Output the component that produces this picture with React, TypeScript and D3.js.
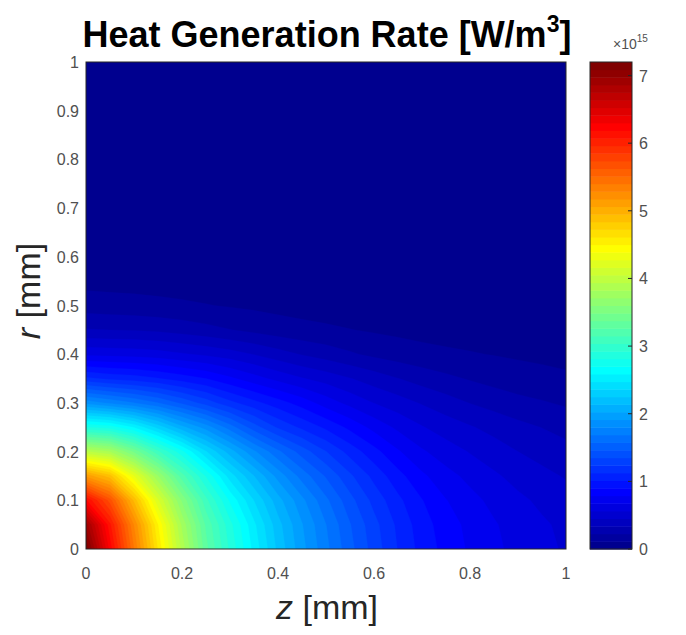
import React from 'react';
import * as d3 from 'd3';

// Grid coordinates (mm)
const zGrid = [0, 0.05, 0.1, 0.15, 0.2, 0.25, 0.3, 0.35, 0.4, 0.45, 0.5, 0.55, 0.6, 0.65, 0.7, 0.75, 0.8, 0.85, 0.9, 0.95, 1];
const rGrid = [0, 0.05, 0.1, 0.15, 0.2, 0.25, 0.3, 0.35, 0.4, 0.45, 0.5, 0.55, 0.6, 0.65, 0.7, 0.75, 0.8, 0.85, 0.9, 0.95, 1];

// Heat generation rate [x1e15 W/m^3], one row per r value, columns follow zGrid
const q_r000 = [7.2, 6.25, 5.4, 4.6, 3.9, 3.3, 2.9, 2.55, 2.22, 1.95, 1.72, 1.5, 1.3, 1.12, 0.97, 0.86, 0.77, 0.7, 0.64, 0.59, 0.55];
const q_r005 = [6.93, 6.1, 5.28, 4.5, 3.8, 3.24, 2.85, 2.5, 2.18, 1.92, 1.69, 1.47, 1.276, 1.1, 0.95, 0.842, 0.755, 0.686, 0.626, 0.578, 0.538];
const q_r010 = [6.2, 5.68, 4.92, 4.18, 3.58, 3.07, 2.68, 2.36, 2.07, 1.83, 1.6, 1.39, 1.2, 1.04, 0.905, 0.792, 0.711, 0.644, 0.586, 0.54, 0.5];
const q_r015 = [5.14, 4.88, 4.28, 3.72, 3.2, 2.8, 2.42, 2.14, 1.87, 1.64, 1.45, 1.26, 1.09, 0.94, 0.81, 0.714, 0.644, 0.58, 0.525, 0.48, 0.44];
const q_r020 = [3.95, 3.82, 3.46, 3.06, 2.73, 2.37, 2.08, 1.82, 1.6, 1.41, 1.24, 1.08, 0.94, 0.8, 0.69, 0.615, 0.555, 0.5, 0.45, 0.41, 0.375];
const q_r025 = [2.82, 2.76, 2.58, 2.32, 2.06, 1.86, 1.63, 1.4, 1.22, 1.1, 0.99, 0.87, 0.75, 0.65, 0.57, 0.51, 0.46, 0.415, 0.37, 0.335, 0.3];
const q_r030 = [1.87, 1.78, 1.69, 1.58, 1.44, 1.3, 1.16, 1.05, 0.95, 0.85, 0.735, 0.64, 0.56, 0.5, 0.44, 0.385, 0.335, 0.295, 0.26, 0.235, 0.21];
const q_r035 = [1.15, 1.1, 1.07, 1.02, 0.96, 0.9, 0.81, 0.72, 0.64, 0.57, 0.515, 0.455, 0.395, 0.34, 0.29, 0.25, 0.215, 0.185, 0.16, 0.145, 0.13];
const q_r040 = [0.65, 0.64, 0.63, 0.61, 0.575, 0.54, 0.5, 0.445, 0.385, 0.33, 0.285, 0.24, 0.2, 0.17, 0.148, 0.132, 0.12, 0.108, 0.098, 0.089, 0.08];
const q_r045 = [0.345, 0.336, 0.33, 0.315, 0.29, 0.26, 0.228, 0.195, 0.165, 0.145, 0.13, 0.115, 0.1, 0.087, 0.076, 0.068, 0.061, 0.055, 0.05, 0.047, 0.044];
const q_r050 = [0.17, 0.16, 0.152, 0.141, 0.13, 0.117, 0.104, 0.092, 0.08, 0.07, 0.062, 0.055, 0.048, 0.042, 0.037, 0.034, 0.03, 0.027, 0.025, 0.023, 0.022];
const q_r055 = [0.077, 0.072, 0.07, 0.065, 0.06, 0.054, 0.048, 0.042, 0.037, 0.033, 0.03, 0.026, 0.023, 0.02, 0.018, 0.016, 0.014, 0.013, 0.012, 0.011, 0.01];
const q_r060 = [0.033, 0.031, 0.03, 0.028, 0.026, 0.023, 0.02, 0.018, 0.016, 0.014, 0.013, 0.012, 0.01, 0.009, 0.008, 0.007, 0.006, 0.005, 0.005, 0.005, 0.004];
const q_r065 = [0.013, 0.012, 0.012, 0.011, 0.01, 0.009, 0.008, 0.007, 0.006, 0.006, 0.005, 0.005, 0.004, 0.004, 0.003, 0.003, 0.003, 0.002, 0.002, 0.002, 0.002];
const q_r070 = [0.005, 0.004, 0.004, 0.004, 0.004, 0.003, 0.003, 0.002, 0.002, 0.002, 0.002, 0.002, 0.001, 0.001, 0.001, 0.001, 0.001, 0.001, 0.001, 0.001, 0.001];
const q_r075 = [0, 0, 0, 0, 0, 0, 0, 0, 0, 0, 0, 0, 0, 0, 0, 0, 0, 0, 0, 0, 0];
const q_r080 = [0, 0, 0, 0, 0, 0, 0, 0, 0, 0, 0, 0, 0, 0, 0, 0, 0, 0, 0, 0, 0];
const q_r085 = [0, 0, 0, 0, 0, 0, 0, 0, 0, 0, 0, 0, 0, 0, 0, 0, 0, 0, 0, 0, 0];
const q_r090 = [0, 0, 0, 0, 0, 0, 0, 0, 0, 0, 0, 0, 0, 0, 0, 0, 0, 0, 0, 0, 0];
const q_r095 = [0, 0, 0, 0, 0, 0, 0, 0, 0, 0, 0, 0, 0, 0, 0, 0, 0, 0, 0, 0, 0];
const q_r100 = [0, 0, 0, 0, 0, 0, 0, 0, 0, 0, 0, 0, 0, 0, 0, 0, 0, 0, 0, 0, 0];

const heatRows = [q_r000, q_r005, q_r010, q_r015, q_r020, q_r025, q_r030, q_r035, q_r040, q_r045, q_r050,
  q_r055, q_r060, q_r065, q_r070, q_r075, q_r080, q_r085, q_r090, q_r095, q_r100];

const xTicks = [0, 0.2, 0.4, 0.6, 0.8, 1];
const xTickLabels = ['0', '0.2', '0.4', '0.6', '0.8', '1'];
const yTicks = [0, 0.1, 0.2, 0.3, 0.4, 0.5, 0.6, 0.7, 0.8, 0.9, 1];
const yTickLabels = ['0', '0.1', '0.2', '0.3', '0.4', '0.5', '0.6', '0.7', '0.8', '0.9', '1'];
const cbTicks = [0, 1, 2, 3, 4, 5, 6, 7];
const cMax = 7.2;
const nColors = 64;

const FONT = "'Liberation Sans', Arial, Helvetica, sans-serif";

function jet(t: number): string {
  const c = (v: number) => Math.max(0, Math.min(1, v));
  const r = c(Math.min(4 * t - 1.5, -4 * t + 4.5));
  const g = c(Math.min(4 * t - 0.5, -4 * t + 3.5));
  const b = c(Math.min(4 * t + 0.5, -4 * t + 2.5));
  return d3.rgb(r * 255, g * 255, b * 255).formatHex();
}

export default function App() {
  const L = 86, R = 566, T = 62, B = 549;
  const x = d3.scaleLinear().domain([0, 1]).range([L, R]);
  const y = d3.scaleLinear().domain([0, 1]).range([B, T]);
  const cy = d3.scaleLinear().domain([0, cMax]).range([B, T]);

  const nz = zGrid.length, nr = rGrid.length;
  const values: number[] = [];
  for (let j = 0; j < nr; j++) for (let i = 0; i < nz; i++) values.push(heatRows[j][i]);

  const step = cMax / nColors;
  const levels = d3.range(nColors).map(k => k * step);
  const contours = d3.contours().size([nz, nr]).thresholds(levels)(values);

  const gx = d3.scaleLinear().domain([0.5, nz - 0.5]).range([x(zGrid[0]), x(zGrid[nz - 1])]);
  const gy = d3.scaleLinear().domain([0.5, nr - 0.5]).range([y(rGrid[0]), y(rGrid[nr - 1])]);
  const proj = d3.geoTransform({
    point: function (px: number, py: number) { (this as any).stream.point(gx(px), gy(py)); }
  });
  const path = d3.geoPath(proj);
  const colorFor = (v: number) => {
    const idx = Math.min(nColors, Math.floor(v / cMax * nColors + 1e-9) + 1);
    return jet(idx / nColors);
  };

  const cbL = 590, cbR = 632;
  const cbBands = d3.range(nColors);
  const axisColor = '#262626';
  const tickColor = '#505050';

  return (
    <svg width={686} height={635} style={{ position: 'absolute', left: 0, top: 0, background: '#fff' }} fontFamily={FONT}>
      <defs>
        <clipPath id="plotclip"><rect x={L} y={T} width={R - L} height={B - T} /></clipPath>
      </defs>
      <g clipPath="url(#plotclip)">
        {contours.map((c, k) => (
          <path key={k} d={path(c as any) || ''} fill={colorFor(c.value)} stroke={colorFor(c.value)} strokeWidth={0.3} />
        ))}
      </g>
      <rect x={L} y={T} width={R - L} height={B - T} fill="none" stroke={axisColor} strokeWidth={1} />

      {/* title */}
      <text x={327} y={47} textAnchor="middle" fontSize={36} fontWeight="bold" fill="#000">
        Heat Generation Rate [W/m<tspan dy={-15} fontSize={23}>3</tspan><tspan dy={15}>]</tspan>
      </text>

      {/* x tick labels */}
      {xTicks.map((t, i) => (
        <text key={'xt' + i} x={x(t)} y={579} textAnchor="middle" fontSize={16} fill={tickColor}>{xTickLabels[i]}</text>
      ))}
      {/* y tick labels */}
      {yTicks.map((t, i) => (
        <text key={'yt' + i} x={79} y={y(t) + 6} textAnchor="end" fontSize={16} fill={tickColor}>{yTickLabels[i]}</text>
      ))}

      {/* axis labels */}
      <text x={327} y={619} textAnchor="middle" fontSize={34} fill={axisColor}>
        <tspan fontStyle="italic">z</tspan> [mm]
      </text>
      <text transform={`translate(40,${291}) rotate(-90)`} textAnchor="middle" fontSize={34} fill={axisColor}>
        <tspan fontStyle="italic">r</tspan> [mm]
      </text>

      {/* colorbar */}
      {cbBands.map(k => (
        <rect key={'cb' + k} x={cbL} y={cy((k + 1) * step)} width={cbR - cbL} height={cy(k * step) - cy((k + 1) * step) + 0.5}
          fill={jet((k + 1) / nColors)} />
      ))}
      <rect x={cbL} y={T} width={cbR - cbL} height={B - T} fill="none" stroke={axisColor} strokeWidth={1} />
      {cbTicks.map(t => (
        <g key={'cbt' + t}>
          <line x1={cbR - 4} x2={cbR} y1={cy(t)} y2={cy(t)} stroke={axisColor} strokeWidth={1} />
          <text x={639} y={cy(t) + 6} fontSize={16} fill={tickColor}>{t}</text>
        </g>
      ))}
      <text x={613} y={49} fontSize={14} fill={tickColor}>×10<tspan dy={-7} fontSize={10}>15</tspan></text>
    </svg>
  );
}
